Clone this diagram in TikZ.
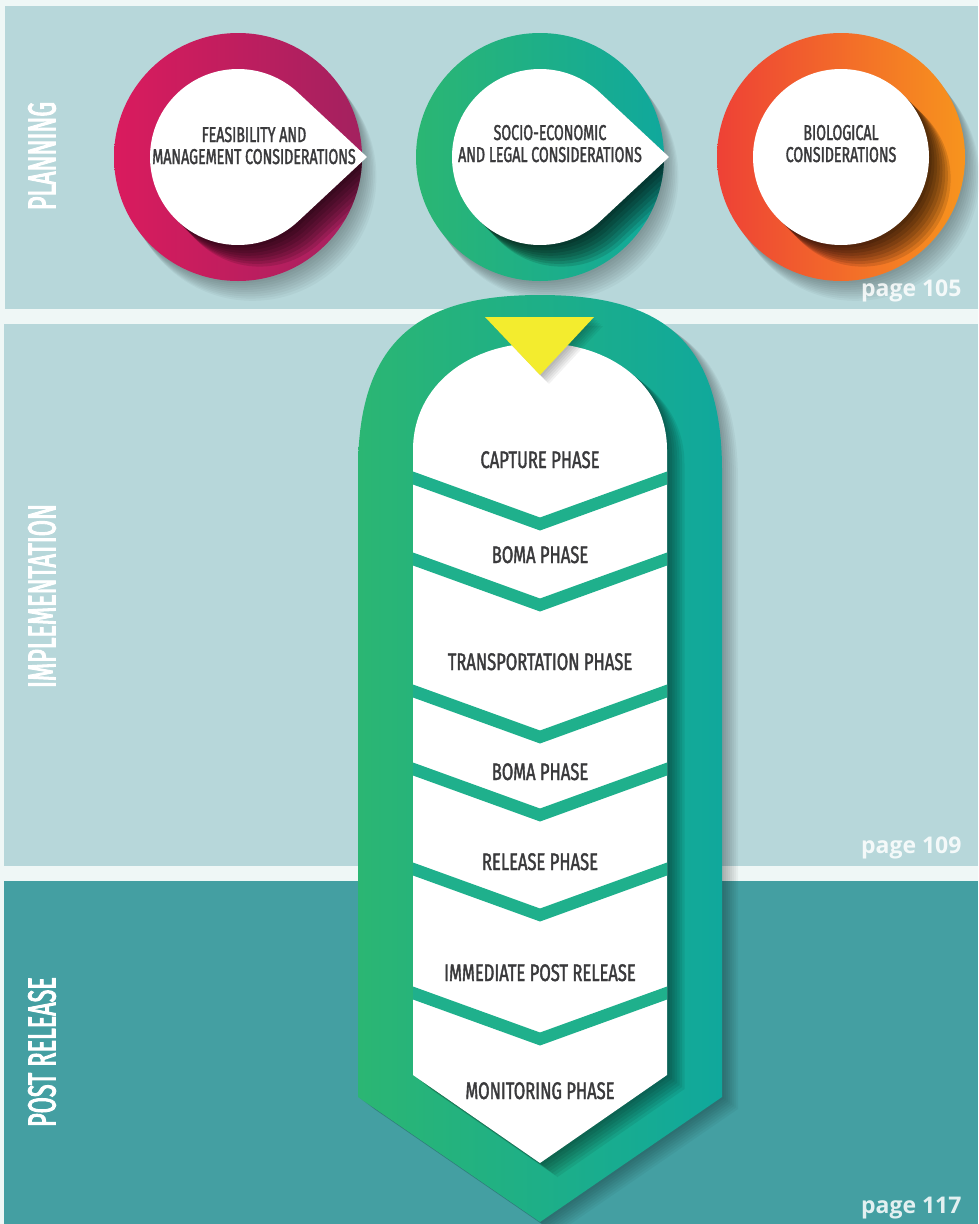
\documentclass[tikz,border=0pt]{standalone}
\usepackage{fontspec}
\newfontfamily\condc[FakeStretch=0.66,FakeBold=1.6]{Fira Sans}
\newfontfamily\condp[FakeStretch=0.69,FakeBold=1.6]{Fira Sans}
\newfontfamily\condside[FakeStretch=0.60,FakeBold=2.4]{Fira Sans}
\newfontfamily\pagefont{Open Sans}
\definecolor{bg}{HTML}{EFF7F6}
\definecolor{panel}{HTML}{B7D7DA}
\definecolor{panelpost}{HTML}{449FA2}
\definecolor{txt}{HTML}{3A3A3C}
\definecolor{magL}{HTML}{DA1B5E}
\definecolor{magR}{HTML}{A3215F}
\definecolor{grnL}{HTML}{2BB673}
\definecolor{grnR}{HTML}{10A89C}
\definecolor{orgL}{HTML}{EE4136}
\definecolor{orgR}{HTML}{F7941D}
\definecolor{band}{HTML}{1FB08C}
\definecolor{yel}{HTML}{F3EC2E}
\def\tearpath{(129,0) -- (47:88) arc[start angle=47,end angle=313,radius=88] -- cycle}
\def\outerpath{(358,470) .. controls (358,335) and (425,295) .. (540,295) .. controls (655,295) and (722,335) .. (722,470) -- (722,1097) -- (540,1222) -- (358,1097) -- cycle}
\def\innerpath{(413,450) .. controls (413,385) and (470,343) .. (540,343) .. controls (610,343) and (667,385) .. (667,450) -- (667,1075) -- (540,1163) -- (413,1075) -- cycle}
\def\yelpath{(485,317) -- (594,317) -- (540,375) -- cycle}
\begin{document}
\begin{tikzpicture}[x=1pt,y=-1pt,
  circtext/.style={text=txt,align=center,font=\condc\fontsize{21.5}{22}\selectfont},
  phasetext/.style={text=txt,anchor=base,font=\condp\fontsize{24}{24}\selectfont},
  sidetext/.style={text=white,rotate=90,font=\condside\fontsize{39}{39}\selectfont},
  pagetext/.style={text=white,text opacity=0.85,anchor=base east,font=\pagefont\bfseries\fontsize{23}{23}\selectfont}]
\useasboundingbox (0,0) rectangle (978,1224);
\fill[bg] (0,0) rectangle (978,1224);
\fill[panel] (5,6) rectangle (978,309);
\fill[panel] (4,324) rectangle (978,866);
\fill[panelpost] (4,881) rectangle (978,1224);

% circles
\foreach \cx/\L/\R/\tr in {238/magL/magR/1, 540/grnL/grnR/1, 841/orgL/orgR/0}{
  \foreach \k in {1,...,9}
    \fill[black,opacity=0.035] ({\cx+\k*1.6},{157+\k*2.2}) circle[radius=124];
  \shade[left color=\L,right color=\R] (\cx,157) circle[radius=124];
  \begin{scope}
    \clip (\cx,157) circle[radius=124];
    \ifnum\tr=1
      \foreach \k in {1,...,8}
        \fill[black,opacity=0.12,shift={({\cx+\k*2.7},{157+\k*2.7})}] \tearpath;
    \else
      \foreach \k in {1,...,8}
        \fill[black,opacity=0.12] ({\cx+\k*2.7},{157+\k*2.7}) circle[radius=88];
    \fi
  \end{scope}
  \ifnum\tr=1
    \fill[white,shift={(\cx,157)}] \tearpath;
  \else
    \fill[white] (\cx,157) circle[radius=88];
  \fi
}
\node[circtext,anchor=base] (c1a) at (254,142) {FEASIBILITY AND};
\node[circtext,anchor=base] (c1b) at (254,164) {MANAGEMENT CONSIDERATIONS};
\node[circtext,anchor=base] (c2a) at (550,140) {SOCIO-ECONOMIC};
\node[circtext,anchor=base] (c2b) at (550,162) {AND LEGAL CONSIDERATIONS};
\node[circtext,anchor=base] (c3a) at (841,140) {BIOLOGICAL};
\node[circtext,anchor=base] (c3b) at (841,162) {CONSIDERATIONS};

% arrow
\foreach \k in {1,...,8}
  \fill[black,opacity=0.04,shift={({\k*2},{\k*1.5})}] \outerpath;
\shade[left color=grnL,right color=grnR] \outerpath;
\begin{scope}
  \clip \outerpath;
  \foreach \k in {1,...,7}
    \fill[black,opacity=0.07,shift={({\k*2.5},{\k*2})}] \innerpath;
\end{scope}
\fill[white] \innerpath;
\begin{scope}
  \clip \innerpath;
  \foreach \c in {478,559,691,769,869,993}
    \fill[band] (413,{\c-6.5}) -- (540,{\c+39.5}) -- (667,{\c-6.5}) -- (667,{\c+6.5}) -- (540,{\c+52.5}) -- (413,{\c+6.5}) -- cycle;
\end{scope}
\foreach \k in {1,...,6}
  \fill[black,opacity=0.05,shift={({\k*1.5},{\k*1.5})}] \yelpath;
\fill[yel] \yelpath;

\node[phasetext] (p1) at (540,468) {CAPTURE PHASE};
\node[phasetext] (p2) at (540,563) {BOMA PHASE};
\node[phasetext] (p3) at (540,670) {TRANSPORTATION PHASE};
\node[phasetext] (p4) at (540,780) {BOMA PHASE};
\node[phasetext] (p5) at (540,870) {RELEASE PHASE};
\node[phasetext] (p6) at (540,981) {IMMEDIATE POST RELEASE};
\node[phasetext] (p7) at (540,1099) {MONITORING PHASE};

\node[sidetext] (s1) at (42,156) {PLANNING};
\node[sidetext] (s2) at (42,596) {IMPLEMENTATION};
\node[sidetext] (s3) at (42,1052) {POST RELEASE};

\node[pagetext] (g1) at (965,296) {page 105};
\node[pagetext] (g2) at (965,853) {page 109};
\node[pagetext] (g3) at (965,1213) {page 117};
\end{tikzpicture}
\end{document}
